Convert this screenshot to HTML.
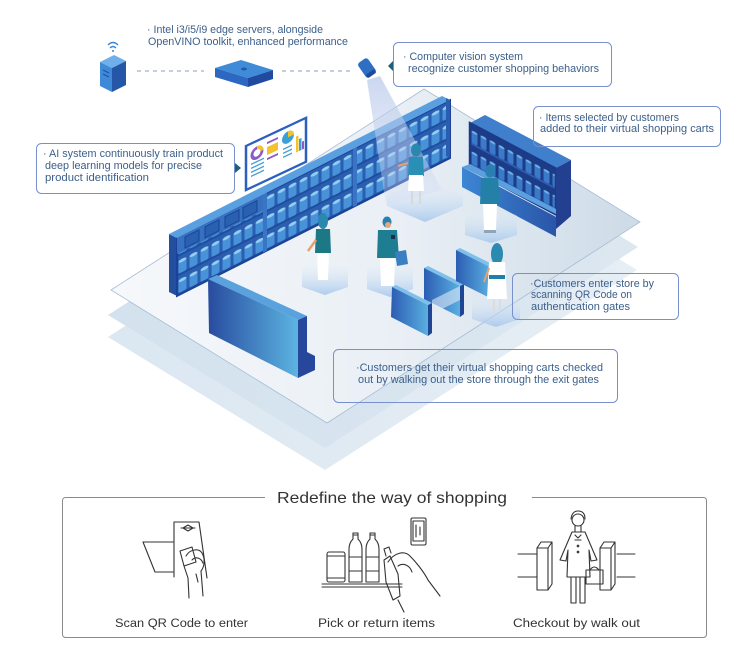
<!DOCTYPE html>
<html><head><meta charset="utf-8"><style>
html,body{margin:0;padding:0;background:#fff;}
svg{display:block;}
text{font-family:"Liberation Sans",sans-serif;}
</style></head><body>
<svg width="739" height="654" viewBox="0 0 739 654" xmlns="http://www.w3.org/2000/svg">
<defs>
  <linearGradient id="fl1" x1="0" y1="0" x2="1" y2="0">
    <stop offset="0" stop-color="#f6f8fb"/><stop offset="0.55" stop-color="#e9eff5"/><stop offset="1" stop-color="#cddbe7"/>
  </linearGradient>
  <linearGradient id="fl2" x1="0" y1="0" x2="1" y2="0">
    <stop offset="0" stop-color="#d3e2ee"/><stop offset="1" stop-color="#dce7f0"/>
  </linearGradient>
  <linearGradient id="fl3" x1="0" y1="0" x2="1" y2="0">
    <stop offset="0" stop-color="#dbe7f1"/><stop offset="1" stop-color="#e7eef5"/>
  </linearGradient>
  <pattern id="items" patternUnits="userSpaceOnUse" width="11" height="19.333">
    <rect width="11" height="19.333" fill="#2a5eb0"/>
    <rect x="1.5" y="5" width="8" height="12.3" rx="1.5" fill="#4892d9"/>
    <ellipse cx="5.5" cy="5.5" rx="4" ry="1.7" fill="#96cdf0"/>
    <rect y="17.333" width="11" height="2" fill="#1f4c9c"/>
  </pattern>
  <pattern id="items2" patternUnits="userSpaceOnUse" width="9" height="21">
    <rect width="9" height="21" fill="#1d3c88"/>
    <rect x="1.5" y="7" width="6" height="12" rx="1.5" fill="#3a7ac8"/>
    <ellipse cx="4.5" cy="7.5" rx="3" ry="1.3" fill="#6fb0e6"/>
    <rect y="19" width="9" height="2" fill="#2e5db0"/>
  </pattern>
  <linearGradient id="cnt" x1="0" y1="0" x2="1" y2="0">
    <stop offset="0" stop-color="#284b9f"/><stop offset="1" stop-color="#5cb4e1"/>
  </linearGradient>
  <linearGradient id="gate" x1="0" y1="0" x2="1" y2="0">
    <stop offset="0" stop-color="#2b5db3"/><stop offset="1" stop-color="#5aafe0"/>
  </linearGradient>
  <linearGradient id="glow" x1="0" y1="0" x2="0" y2="1">
    <stop offset="0" stop-color="#e8f1fa" stop-opacity="0"/><stop offset="1" stop-color="#a7c8ec" stop-opacity="0.9"/>
  </linearGradient>
  <linearGradient id="cone" x1="0" y1="0" x2="0" y2="1">
    <stop offset="0" stop-color="#b4c6ea" stop-opacity="0.7"/><stop offset="1" stop-color="#d4dcf4" stop-opacity="0.3"/>
  </linearGradient>
  <linearGradient id="base" x1="0" y1="0" x2="1" y2="0">
    <stop offset="0" stop-color="#3c86d4"/><stop offset="1" stop-color="#2a55a8"/>
  </linearGradient>
</defs>

<!-- FLOOR LAYERS -->
<polygon points="108,337 420,137 637,270 325,470" fill="url(#fl3)"/>
<polygon points="108,315 421,114 638,247 325,448" fill="url(#fl2)"/>
<polygon points="111,290 424,89 640,222 327,423" fill="url(#fl1)" stroke="#a6bcd5" stroke-width="0.8"/>

<!-- glow under P1 (cone floor) -->
<polygon points="387,196 425,180 463,196 463,206 425,222 387,206" fill="url(#glow)"/>

<!-- LONG BACK SHELF -->
<polygon points="169,234 177,238 177,296 169,292" fill="#244f9f"/>
<g transform="matrix(1,-0.505,0,1,177,238)">
  <rect width="273" height="58" fill="url(#items)"/>
  <rect width="273" height="58" fill="none" stroke="#1b4294" stroke-width="2"/>
  <rect x="86" width="4" height="58" fill="#3a74c4"/>
  <rect x="176" width="4" height="58" fill="#3a74c4"/>
  <rect x="0" y="0" width="86" height="16" fill="#3670c0"/>
  <rect x="8" y="3" width="14" height="11" fill="#2a60b0" stroke="#1b4294"/>
  <rect x="28" y="3" width="14" height="11" fill="#2a60b0" stroke="#1b4294"/>
  <rect x="48" y="3" width="14" height="11" fill="#2a60b0" stroke="#1b4294"/>
  <rect x="66" y="3" width="14" height="11" fill="#2a60b0" stroke="#1b4294"/>
</g>
<polygon points="177,238 450,100 442,96 169,234" fill="#5aa0e0"/>
<polygon points="450,100 450,158 446,156 446,98" fill="#2a5cb0"/>

<!-- wall screen -->
<g transform="matrix(1,-0.47,0,1,246,146)">
  <rect x="0" y="0" width="60" height="44" fill="#fff" stroke="#2b5fc0" stroke-width="2.5"/>
  <circle cx="11" cy="12" r="5" fill="none" stroke="#8a5cc8" stroke-width="3"/>
  <path d="M11,7 A5,5 0 0 1 16,12" fill="none" stroke="#f2c230" stroke-width="3"/>
  <rect x="5" y="20" width="13" height="1.5" fill="#4aa0d8"/><rect x="5" y="24" width="13" height="1.5" fill="#4aa0d8"/><rect x="5" y="28" width="13" height="1.5" fill="#4aa0d8"/><rect x="5" y="32" width="13" height="1.5" fill="#4aa0d8"/>
  <rect x="21" y="6" width="11" height="2" fill="#8a5cc8"/>
  <rect x="21" y="11" width="11" height="8" fill="#f2c230"/>
  <rect x="21" y="22" width="11" height="2" fill="#8a5cc8"/>
  <circle cx="42" cy="11" r="6" fill="#3aa0d8"/><path d="M42,5 A6,6 0 0 1 48,11 L42,11 Z" fill="#f2c230"/>
  <rect x="37" y="20" width="9" height="1.5" fill="#4aa0d8"/><rect x="37" y="24" width="9" height="1.5" fill="#4aa0d8"/><rect x="37" y="28" width="9" height="1.5" fill="#4aa0d8"/>
  <rect x="50" y="14" width="2.5" height="16" fill="#f2c230"/><rect x="53" y="18" width="2.5" height="12" fill="#3aa0d8"/><rect x="56" y="22" width="2" height="8" fill="#8a5cc8"/>
</g>

<!-- RIGHT SHELF UNIT -->
<polygon points="470,123 485,115 571,160 556,168" fill="#3f7fcc"/>
<g transform="matrix(1,0.53,0,1,470,123)">
  <rect width="86" height="46" fill="url(#items2)"/>
  <rect width="86" height="46" fill="none" stroke="#1b3a88" stroke-width="2.5"/>
</g>
<g transform="matrix(1,0.53,0,1,462,167)">
  <rect width="94" height="20" fill="url(#base)"/>
</g>
<polygon points="462,167 470,164 556,209 556,214 " fill="#5b9fde"/>
<polygon points="556,168 571,160 571,216 556,229" fill="#22408f"/>

<!-- camera cone -->
<polygon points="367,80 380,76 442,190 386,205" fill="url(#cone)"/>

<!-- glows -->
<polygon points="465,215 491,207 517,215 517,235 491,243 465,235" fill="url(#glow)"/>
<polygon points="302,268 325,260 348,268 348,287 325,295 302,287" fill="url(#glow)"/>
<polygon points="367,268 390,260 413,268 413,289 390,297 367,289" fill="url(#glow)"/>
<polygon points="472,301 496,293 520,301 520,319 496,327 472,319" fill="url(#glow)"/>

<!-- FRONT COUNTER -->
<polygon points="208,279 217,275 307,316 298,320" fill="#5aa2de"/>
<polygon points="208,279 298,320 298,378 209,333" fill="url(#cnt)"/>
<polygon points="298,320 307,316 307,352 315,356 315,370 298,378" fill="#26479b"/>

<!-- GATES -->
<g>
  <polygon points="392,287 396,285 432,303 428,305" fill="#7fc0ea"/>
  <polygon points="392,287 428,305 428,336 391,317" fill="url(#gate)"/>
  <polygon points="428,305 432,303 432,333 428,336" fill="#1f4595"/>
  <polygon points="424,268 428,266 464,284 460,286" fill="#7fc0ea"/>
  <polygon points="424,268 460,286 460,317 424,299" fill="url(#gate)"/>
  <polygon points="460,286 464,284 464,314 460,317" fill="#1f4595"/>
  <polygon points="432,300 460,286 460,300 432,314" fill="#dfe9f6" opacity="0.6"/>
  <polygon points="456,250 460,248 494,265 490,267" fill="#7fc0ea"/>
  <polygon points="456,250 490,267 490,298 456,281" fill="url(#gate)"/>
  <polygon points="490,267 494,265 494,295 490,298" fill="#1f4595"/>
</g>

<!-- PEOPLE -->
<g>
  <ellipse cx="416" cy="150" rx="5" ry="6.5" fill="#2a88ad"/>
  <path d="M409,157 L423,157 L424,176 L408,176 Z" fill="#2a8fb5"/>
  <path d="M408,163 L398,166" stroke="#e6a070" stroke-width="2"/>
  <path d="M409,175 L423,175 L424,191 L408,191 Z" fill="#fff"/>
  <path d="M412,191 L412,204 M420,191 L420,204" stroke="#d8d8d8" stroke-width="2"/>
</g>
<g>
  <ellipse cx="490" cy="171" rx="5" ry="6.5" fill="#2a7fb0"/>
  <path d="M481,178 L498,178 L500,204 L480,204 Z" fill="#2580a8"/>
  <path d="M483,204 L497,204 L496,230 L484,230 Z" fill="#fff"/>
  <path d="M484,230 L496,230 L496,233 L484,233 Z" fill="#8fa4b8"/>
</g>
<g>
  <ellipse cx="323" cy="221" rx="5" ry="8" fill="#2a88ad"/>
  <path d="M316,229 L330,229 L331,253 L315,253 Z" fill="#1d7886"/>
  <path d="M316,240 L308,251" stroke="#e8a070" stroke-width="2.5"/>
  <path d="M317,253 L329,253 L328,280 L318,280 Z" fill="#fff"/>
</g>
<g>
  <ellipse cx="387" cy="222" rx="4.5" ry="5.5" fill="#2a7fb0"/>
  <ellipse cx="388" cy="225" rx="3" ry="3" fill="#e6a87a"/>
  <path d="M378,230 L397,230 L399,258 L377,258 Z" fill="#1f7d92"/>
  <rect x="391" y="235" width="4" height="4" fill="#1d2e4a"/>
  <path d="M380,258 L395,258 L394,286 L381,286 Z" fill="#fff"/>
  <path d="M395,252 L406,250 L408,264 L397,266 Z" fill="#3a7fc0"/>
</g>
<g>
  <ellipse cx="497" cy="254" rx="6" ry="11" fill="#2a8ab0"/>
  <path d="M489,262 L505,262 L507,299 L487,299 Z" fill="#fff"/>
  <rect x="489" y="275" width="16" height="4" fill="#1e7fa8"/>
  <path d="M489,268 L484,282" stroke="#e6a070" stroke-width="2"/>
  <path d="M494,299 L494,311 M500,299 L500,311" stroke="#dcdcdc" stroke-width="2"/>
</g>

<!-- TOP DEVICES -->
<path d="M108,45 Q113,40 118,45 M110,48 Q113,45 116,48" fill="none" stroke="#3a86d6" stroke-width="1.3"/>
<circle cx="113" cy="51" r="1" fill="#3a86d6"/>
<polygon points="100,62 114,55 126,61 112,68" fill="#6fb0ea"/>
<polygon points="100,62 112,68 112,92 100,86" fill="#3f8ad8"/>
<polygon points="112,68 126,61 126,85 112,92" fill="#2656a8"/>
<path d="M103,70 L109,73 M103,74 L109,77" stroke="#1f4f9f" stroke-width="1"/>
<line x1="137" y1="71" x2="204" y2="71" stroke="#8a9fb7" stroke-width="1" stroke-dasharray="4,4"/>
<polygon points="215,68 241,60 273,70 248,78" fill="#3f8bd7"/>
<polygon points="215,68 248,78 248,87 215,77" fill="#2c68c2"/>
<polygon points="248,78 273,70 273,79 248,87" fill="#1f4aa0"/>
<ellipse cx="244" cy="69" rx="3" ry="1.5" fill="#2259ae"/>
<line x1="282" y1="71" x2="350" y2="71" stroke="#8a9fb7" stroke-width="1" stroke-dasharray="4,4"/>
<g transform="rotate(-35 367 68)">
  <rect x="361" y="59" width="12" height="18" rx="3" fill="#2e6fc4"/>
  <rect x="362" y="73" width="10" height="4" rx="1" fill="#1d4a9a"/>
</g>

<!-- CALLOUT BOXES -->
<g fill="none" stroke="#7891cd" stroke-width="1">
  <rect x="393.5" y="42.5" width="218" height="44" rx="5"/>
  <rect x="533.5" y="106.5" width="187" height="40" rx="5"/>
  <rect x="36.5" y="143.5" width="198" height="50" rx="5"/>
  <rect x="512.5" y="273.5" width="166" height="46" rx="5"/>
  <rect x="333.5" y="349.5" width="284" height="53" rx="5"/>
</g>
<polygon points="393,61 388,66 393,71" fill="#1e5f7c"/>
<polygon points="235,163 241,168 235,173" fill="#1e5f7c"/>

<g fill="#3b5f8a" font-size="11">
  <text x="147" y="33" textLength="176" lengthAdjust="spacingAndGlyphs">· Intel i3/i5/i9 edge servers, alongside</text>
  <text x="148" y="45" textLength="200" lengthAdjust="spacingAndGlyphs">OpenVINO toolkit, enhanced performance</text>
  <text x="403" y="60" textLength="120" lengthAdjust="spacingAndGlyphs">· Computer vision system</text>
  <text x="408" y="72" textLength="191" lengthAdjust="spacingAndGlyphs">recognize customer shopping behaviors</text>
  <text x="539" y="121" textLength="140" lengthAdjust="spacingAndGlyphs">· Items selected by customers</text>
  <text x="540" y="132" textLength="174" lengthAdjust="spacingAndGlyphs">added to their virtual shopping carts</text>
  <text x="43" y="157" textLength="180" lengthAdjust="spacingAndGlyphs">· AI system continuously train product</text>
  <text x="45" y="169" textLength="157" lengthAdjust="spacingAndGlyphs">deep learning models for precise</text>
  <text x="45" y="181" textLength="104" lengthAdjust="spacingAndGlyphs">product identification</text>
  <text x="530" y="287" textLength="124" lengthAdjust="spacingAndGlyphs">·Customers enter store by</text>
  <text x="531" y="298" textLength="101" lengthAdjust="spacingAndGlyphs">scanning QR Code on</text>
  <text x="531" y="310" textLength="99" lengthAdjust="spacingAndGlyphs">authentication gates</text>
  <text x="356" y="371" textLength="247" lengthAdjust="spacingAndGlyphs">·Customers get their virtual shopping carts checked</text>
  <text x="358" y="383" textLength="241" lengthAdjust="spacingAndGlyphs">out by walking out the store through the exit gates</text>
</g>

<!-- BOTTOM PANEL -->
<rect x="62.5" y="497.5" width="644" height="140" rx="3" fill="none" stroke="#8a8a8a" stroke-width="1"/>
<rect x="265" y="490" width="267" height="14" fill="#fff"/>
<text x="277" y="503" font-size="16" fill="#333" textLength="230" lengthAdjust="spacingAndGlyphs">Redefine the way of shopping</text>

<g font-size="11.5" fill="#333">
  <text x="115" y="627" textLength="133" lengthAdjust="spacingAndGlyphs">Scan QR Code to enter</text>
  <text x="318" y="627" textLength="117" lengthAdjust="spacingAndGlyphs">Pick or return items</text>
  <text x="513" y="627" textLength="127" lengthAdjust="spacingAndGlyphs">Checkout by walk out</text>
</g>

<!-- icon 1 -->
<g fill="none" stroke="#333" stroke-width="1.1" stroke-linejoin="round" stroke-linecap="round">
  <path d="M143,542 L173,542 M143,542 L155,572 L173,572"/>
  <path d="M174,577 L174,522 L199,522 L207,578"/>
  <path d="M183,528 L188,525 L193,528 L188,531 Z M181,528 H195"/>
  <path d="M180,551 L192,547 L196,562 L184,566 Z"/>
  <path d="M186,556 C190,549 199,548 202,553 C205,558 205,566 201,571 L203,596"/>
  <path d="M192,560 C196,556 201,558 203,563"/>
  <path d="M184,566 L188,578 L189,598"/>
  <path d="M196,574 L198,582"/>
</g>
<!-- icon 2 -->
<g fill="none" stroke="#333" stroke-width="1.1" stroke-linejoin="round" stroke-linecap="round">
  <rect x="327" y="552" width="18" height="30" rx="2"/>
  <path d="M327,556 H345 M327,578 H345"/>
  <path d="M349,582 V549 Q349,543 353,539 V533 H358 V539 Q362,543 362,549 V582 Z M349,557 H362 M349,571 H362 M353,535 H358"/>
  <path d="M366,582 V549 Q366,543 370,539 V533 H375 V539 Q379,543 379,549 V582 Z M366,557 H379 M366,571 H379 M370,535 H375"/>
  <path d="M322,584 H402 M322,587 H402"/>
  <path d="M384,560 L390,556 L398,574 L400,596 L393,600 L386,582 Z"/>
  <path d="M386,556 L384,549 L389,547 L391,553"/>
  <path d="M388,562 C394,553 404,550 410,556 C416,562 424,572 428,580 L440,596"/>
  <path d="M398,566 C404,562 410,566 412,572"/>
  <path d="M398,600 L404,612"/>
  <rect x="411" y="518" width="15" height="27" rx="1.5"/>
  <rect x="413" y="521" width="11" height="20"/>
  <path d="M416,525 V537 M420,527 V535"/>
</g>
<!-- icon 3 -->
<g fill="none" stroke="#333" stroke-width="1.1" stroke-linejoin="round" stroke-linecap="round">
  <path d="M518,554 H537 M518,577 H537 M617,554 H635 M617,577 H635"/>
  <path d="M537,548 L541,542 L552,542 L548,548 Z M537,548 V590 H548 V548 M552,542 V584 L548,590"/>
  <path d="M600,548 L604,542 L615,542 L611,548 Z M600,548 V590 H611 V548 M615,542 V584 L611,590"/>
  <circle cx="578" cy="520" r="6"/>
  <path d="M571,519 Q572,511 578,511 Q585,511 585,519"/>
  <path d="M575,526 V532 M581,526 V532"/>
  <path d="M572,532 L560,560 L566,561 L568,550 L567,577 H590 L589,550 L591,561 L597,560 L585,532 Z"/>
  <path d="M575,535 L578,538 L581,535 M575,540 L581,540"/>
  <circle cx="578" cy="546" r="0.8"/><circle cx="578" cy="552" r="0.8"/>
  <path d="M571,577 V603 H576 V577 M580,577 V603 H585 V577"/>
  <rect x="586" y="570" width="17" height="14"/>
  <path d="M590,570 Q594,564 599,570"/>
</g>
</svg>
</body></html>
